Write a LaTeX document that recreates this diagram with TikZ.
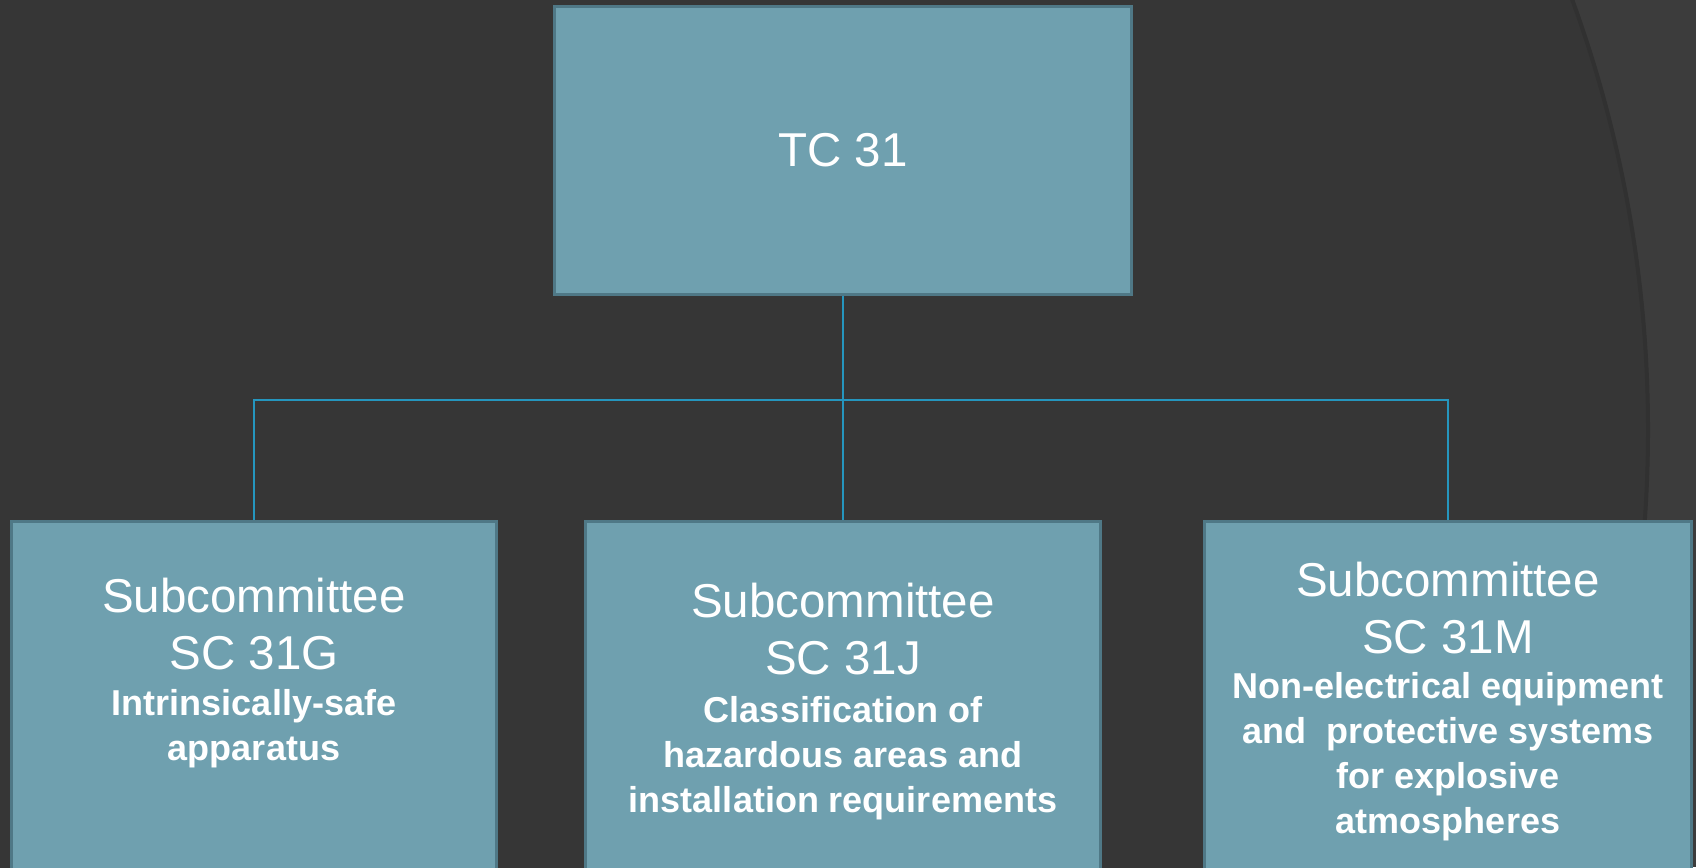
\documentclass[tikz,border=0pt]{standalone}
\usepackage{fontspec}
\setmainfont{Liberation Sans}
\usetikzlibrary{calc,positioning}
\definecolor{slide}{HTML}{363636}
\definecolor{slideedge}{HTML}{3C3C3C}
\definecolor{slideshade}{HTML}{313131}
\definecolor{boxfill}{HTML}{6FA0AF}
\definecolor{boxline}{HTML}{4F7886}
\definecolor{linkblue}{HTML}{2596BE}
\tikzset{
  unit/.style={draw=boxline, fill=boxfill, line width=3pt, inner sep=0pt, anchor=north west, text=white},
  title/.style={text=white, align=center, inner sep=0pt, anchor=north, font=\fontsize{47.5}{57}\selectfont},
  remit/.style={text=white, align=center, inner sep=0pt, anchor=north, font=\bfseries\fontsize{36}{45}\selectfont},
  link/.style={draw=linkblue, line width=2pt}
}

\begin{document}
\begin{tikzpicture}[x=1pt,y=-1pt]
\useasboundingbox (0,0) rectangle (1696,867);
\clip (0,0) rectangle (1696,867);
% slide background
\fill[slideedge] (0,0) rectangle (1696,867);
\fill[slide] (394,430) circle (1254pt);
\draw[slideshade, line width=4pt] (394,430) circle (1254pt);

% committee boxes
\node[unit, minimum width=577pt, minimum height=288pt, font=\fontsize{47.5}{57}\selectfont] (tc) at (553,5) {TC 31};
\node[unit, minimum width=485pt, minimum height=400pt] (sg) at (10,520) {};
\node[unit, minimum width=515pt, minimum height=400pt] (sj) at (584,520) {};
\node[unit, minimum width=487pt, minimum height=400pt] (sm) at (1203,520) {};

% texts
\node[title] (sgtitle) at ($(sg.north)+(0,58)$) {Subcommittee\\SC 31G};
\node[remit] (sgremit) at ($(sg.north)+(0,169)$) {Intrinsically-safe\\apparatus};
\node[title] (sjtitle) at ($(sj.north)+(0,63)$) {Subcommittee\\SC 31J};
\node[remit] (sjremit) at ($(sj.north)+(0,176)$) {Classification of\\hazardous areas and\\installation requirements};
\node[title] (smtitle) at ($(sm.north)+(0,42)$) {Subcommittee\\SC 31M};
\node[remit] (smremit) at ($(sm.north)+(0,152)$) {Non-electrical equipment\\and\ \ protective systems\\for explosive\\atmospheres};

% connectors
\coordinate (bus) at (tc.south |- 0,400);
\draw[link] (tc.south) -- (bus);
\foreach \sub in {sg,sj,sm}
  \draw[link] (bus) -| (\sub.north);
\end{tikzpicture}
\end{document}
